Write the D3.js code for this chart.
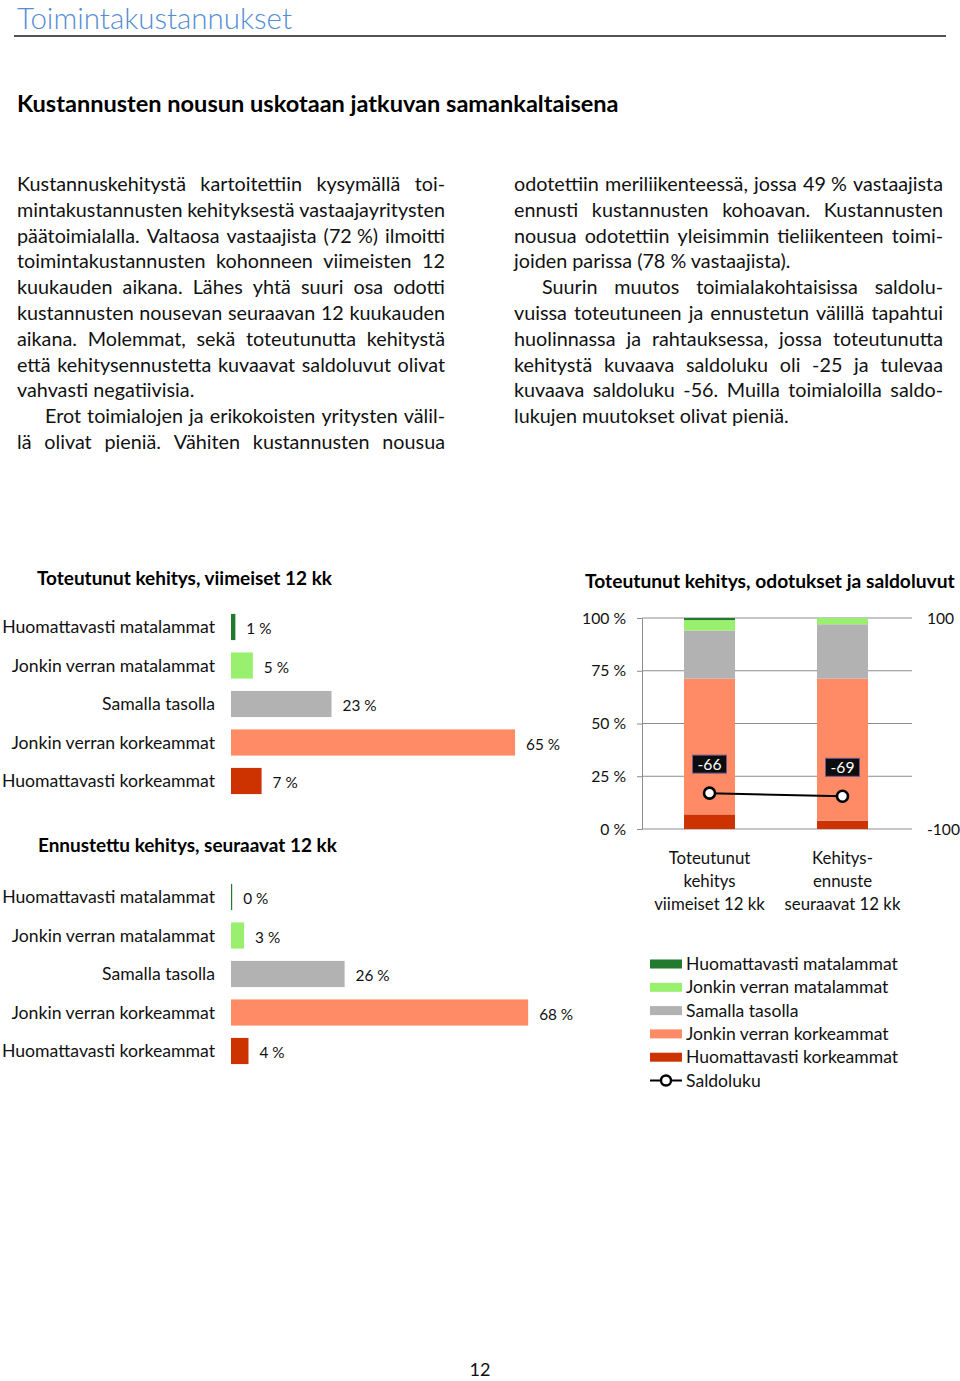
<!DOCTYPE html>
<html><head><meta charset="utf-8">
<script src="https://cdn.jsdelivr.net/npm/d3@7/dist/d3.min.js"></script>
<style>
body{margin:0;background:#fff;}
svg{display:block;}
</style></head><body>
<svg id="page" width="960" height="1381"></svg>
<script>
// ---------- DATA ----------
const pageTitle = "Toimintakustannukset";
const heading = "Kustannusten nousun uskotaan jatkuvan samankaltaisena";
const categories = ["Huomattavasti matalammat","Jonkin verran matalammat","Samalla tasolla","Jonkin verran korkeammat","Huomattavasti korkeammat"];
const categoryColors = ["#217a2e","#99f06f","#b2b2b2","#ff8b66","#cc3300"];
const realizedValues = [1,5,23,65,7];
const forecastValues = [0,3,26,68,4];
const periods = ["Toteutunut","Ennuste"];
const periodLabels = [["Toteutunut","kehitys","viimeiset 12 kk"],["Kehitys-","ennuste","seuraavat 12 kk"]];
const saldoValues = [-66,-69];
const leftTicks = [0,0.25,0.5,0.75,1];
const rightTicks = [-100,100];
const chartTitles = ["Toteutunut kehitys, viimeiset 12 kk","Ennustettu kehitys, seuraavat 12 kk","Toteutunut kehitys, odotukset ja saldoluvut"];
const legendSaldo = "Saldoluku";
const pageNumber = "12";
const leftLines = [
 {t:"Kustannuskehitystä kartoitettiin kysymällä toi-", j:1},
 {t:"mintakustannusten kehityksestä vastaajayritysten", j:1},
 {t:"päätoimialalla. Valtaosa vastaajista (72\u00a0%) ilmoitti", j:1},
 {t:"toimintakustannusten kohonneen viimeisten 12", j:1},
 {t:"kuukauden aikana. Lähes yhtä suuri osa odotti", j:1},
 {t:"kustannusten nousevan seuraavan 12 kuukauden", j:1},
 {t:"aikana. Molemmat, sekä toteutunutta kehitystä", j:1},
 {t:"että kehitysennustetta kuvaavat saldoluvut olivat", j:1},
 {t:"vahvasti negatiivisia.", j:0},
 {t:"Erot toimialojen ja erikokoisten yritysten välil-", j:1, indent:1},
 {t:"lä olivat pieniä. Vähiten kustannusten nousua", j:1}
];
const rightLines = [
 {t:"odotettiin meriliikenteessä, jossa 49\u00a0% vastaajista", j:1},
 {t:"ennusti kustannusten kohoavan. Kustannusten", j:1},
 {t:"nousua odotettiin yleisimmin tieliikenteen toimi-", j:1},
 {t:"joiden parissa (78\u00a0% vastaajista).", j:0},
 {t:"Suurin muutos toimialakohtaisissa saldolu-", j:1, indent:1},
 {t:"vuissa toteutuneen ja ennustetun välillä tapahtui", j:1},
 {t:"huolinnassa ja rahtauksessa, jossa toteutunutta", j:1},
 {t:"kehitystä kuvaava saldoluku oli -25 ja tulevaa", j:1},
 {t:"kuvaava saldoluku -56. Muilla toimialoilla saldo-", j:1},
 {t:"lukujen muutokset olivat pieniä.", j:0}
];

// ---------- HELPERS ----------
const FONT = "Lato, 'Open Sans', 'DejaVu Sans', sans-serif";
const svg = d3.select("#page").attr("font-family", FONT);
function measure(str, size, weight){
  const t = svg.append("text").attr("font-size", size).attr("font-weight", weight||400).text(str);
  const w = t.node().getComputedTextLength(); t.remove(); return w;
}
function fit(str, targetW, weight){ return 20*targetW/measure(str,20,weight); }

// ---------- PAGE HEADER ----------
svg.append("text").attr("x",17).attr("y",28.5).attr("fill","#548dd4")
  .attr("font-weight",300).attr("font-size",Math.min(29.5,fit(pageTitle,278,300))).text(pageTitle);
svg.append("line").attr("x1",14).attr("x2",946).attr("y1",36).attr("y2",36)
  .attr("stroke","#1a1a1a").attr("stroke-width",1.6);
svg.append("text").attr("x",17).attr("y",112).attr("font-weight",700)
  .attr("font-size",fit(heading,602,700)).text(heading);

// ---------- BODY TEXT ----------
const bodySize = (fit("vahvasti negatiivisia.",176) + fit("joiden parissa (78\u00a0% vastaajista).",278) + fit("lukujen muutokset olivat pieniä.",276))/3;
const spaceW = measure("a a",bodySize) - measure("aa",bodySize);
const bodyG = svg.append("g").attr("font-size",bodySize).attr("fill","#111");
function drawParagraph(lines, x0, width, y0, lh){
  lines.forEach((ln,i)=>{
    const y = y0 + i*lh;
    const xs = x0 + (ln.indent?28:0);
    const w = width - (ln.indent?28:0);
    if(!ln.j){ bodyG.append("text").attr("x",xs).attr("y",y).text(ln.t); return; }
    const words = ln.t.split(" ");
    const widths = words.map(wd => measure(wd, bodySize));
    const gap = Math.max(spaceW*0.8,(w - d3.sum(widths))/(words.length-1));
    let xc = xs;
    words.forEach((wd,k)=>{
      bodyG.append("text").attr("x",xc).attr("y",y).text(wd);
      xc += widths[k]+gap;
    });
  });
}
drawParagraph(leftLines, 17, 428, 191, 25.8);
drawParagraph(rightLines, 514, 429, 191, 25.8);

// ---------- HORIZONTAL BAR CHARTS ----------
const labelSize = fit(categories[0],213);
const valueSize = fit("65 %",34);
const x = d3.scaleLinear().domain([0,100]).range([231,668]);
function barChart(values, title, titleX, titleY, titleW, r0){
  svg.append("text").attr("x",titleX).attr("y",titleY).attr("font-weight",700)
    .attr("font-size",fit(title,titleW,700)).text(title);
  const y = d3.scaleBand().domain(categories).range([r0, r0+192.5]).paddingInner(0.32).paddingOuter(0.16);
  const g = svg.append("g");
  const rows = categories.map((c,i)=>({c, v:values[i], col:categoryColors[i]}));
  g.selectAll("rect").data(rows).join("rect")
    .attr("x",x(0)).attr("y",d=>y(d.c)).attr("height",y.bandwidth())
    .attr("width",d=>Math.max(1.2, x(d.v)-x(0))).attr("fill",d=>d.col);
  g.selectAll("text.cat").data(rows).join("text").attr("class","cat")
    .attr("x",215).attr("y",d=>y(d.c)+y.bandwidth()/2).attr("dy","0.35em")
    .attr("text-anchor","end").attr("font-size",labelSize).attr("fill","#111").text(d=>d.c);
  g.selectAll("text.val").data(rows).join("text").attr("class","val")
    .attr("x",d=>Math.max(x(0)+1.2,x(d.v))+11).attr("y",d=>y(d.c)+y.bandwidth()/2+2).attr("dy","0.35em")
    .attr("font-size",valueSize).attr("fill","#111").text(d=>d.v+" %");
}
barChart(realizedValues, chartTitles[0], 37, 585, 295, 607.75);
barChart(forecastValues, chartTitles[1], 38, 852, 299, 877.75);

// ---------- STACKED CHART ----------
const sc = svg.append("g");
sc.append("text").attr("x",585).attr("y",588).attr("font-weight",700)
  .attr("font-size",fit(chartTitles[2],370,700)).text(chartTitles[2]);
const yL = d3.scaleLinear().domain([0,1]).range([829,618]);
const yR = d3.scaleLinear().domain([-100,100]).range([829,618]);
const xb = d3.scaleBand().domain(periods).range([642,910]).paddingInner(0.6165).paddingOuter(0.316);
// grid
sc.selectAll("line.grid").data(leftTicks).join("line").attr("class","grid")
  .attr("x1",642).attr("x2",912).attr("y1",d=>yL(d)).attr("y2",d=>yL(d))
  .attr("stroke","#8c8c8c").attr("stroke-width",1);
const tickSize = fit("100 %",44);
const axL = sc.append("g").attr("transform","translate(642,0)")
  .call(d3.axisLeft(yL).tickValues(leftTicks).tickFormat(d=>Math.round(d*100)+" %").tickSizeInner(5).tickSizeOuter(0).tickPadding(11));
axL.select(".domain").attr("stroke","#8c8c8c");
axL.selectAll(".tick line").attr("stroke","#8c8c8c");
axL.selectAll("text").attr("font-size",tickSize).attr("font-family",FONT).attr("fill","#111");
const axR = sc.append("g").attr("transform","translate(912,0)")
  .call(d3.axisRight(yR).tickValues(rightTicks).tickFormat(d=>String(d)).tickSize(0).tickPadding(15));
axR.select(".domain").remove();
axR.selectAll("text").attr("font-size",Math.min(tickSize,fit("-100",33))).attr("font-family",FONT).attr("fill","#111");

const tableRows = periods.map((p,i)=>{
  const o = {period:p};
  categories.forEach((c,k)=>{ o[c] = (i===0?realizedValues:forecastValues)[k]; });
  return o;
});
const stack = d3.stack().keys(categories.slice().reverse()).offset(d3.stackOffsetExpand);
const series = stack(tableRows);
sc.selectAll("g.series").data(series).join("g").attr("class","series")
  .attr("fill",d=>categoryColors[categories.indexOf(d.key)])
  .selectAll("rect").data(d=>d).join("rect")
  .attr("x",d=>xb(d.data.period)).attr("width",xb.bandwidth())
  .attr("y",d=>yL(d[1])).attr("height",d=>yL(d[0])-yL(d[1]));

// category axis labels
const catSize = fit("seuraavat 12 kk",116);
periods.forEach((p,i)=>{
  const t = sc.append("text").attr("text-anchor","middle").attr("font-size",catSize).attr("fill","#111");
  periodLabels[i].forEach((l,k)=>{
    t.append("tspan").attr("x",xb(p)+xb.bandwidth()/2).attr("y",864+k*23).text(l);
  });
});

// saldo line
const pts = periods.map((p,i)=>({x:xb(p)+xb.bandwidth()/2, v:saldoValues[i]}));
sc.append("path").datum(pts).attr("fill","none").attr("stroke","#000").attr("stroke-width",2)
  .attr("d",d3.line().x(d=>d.x).y(d=>yR(d.v)));
sc.selectAll("circle.pt").data(pts).join("circle").attr("class","pt")
  .attr("cx",d=>d.x).attr("cy",d=>yR(d.v)).attr("r",5.5)
  .attr("fill","#fff").attr("stroke","#000").attr("stroke-width",2.6);
const lblSize = fit("-66",24);
pts.forEach(d=>{
  const cy = yR(d.v)-29;
  const w = measure(String(d.v), lblSize) + 10;
  sc.append("rect").attr("x",d.x-w/2).attr("y",cy-9).attr("width",w).attr("height",18)
    .attr("fill","#0d0d0d").attr("stroke","#6b5b8c").attr("stroke-width",1);
  sc.append("text").attr("x",d.x).attr("y",cy).attr("dy","0.35em").attr("text-anchor","middle")
    .attr("font-size",lblSize).attr("fill","#fff").text(d.v);
});

// legend
const legSize = fit(categories[0],212);
const lg = svg.append("g");
const legRows = categories.map((c,i)=>({c,col:categoryColors[i]}));
const ly = d3.scaleLinear().domain([0,5]).range([964,1080.5]);
lg.selectAll("rect").data(legRows).join("rect")
  .attr("x",650).attr("y",(d,i)=>ly(i)-4.5).attr("width",32).attr("height",9).attr("fill",d=>d.col);
lg.selectAll("text.leg").data(legRows.concat([{c:legendSaldo}])).join("text").attr("class","leg")
  .attr("x",686).attr("y",(d,i)=>ly(i)).attr("dy","0.35em").attr("font-size",legSize).attr("fill","#111").text(d=>d.c);
lg.append("line").attr("x1",650).attr("x2",682).attr("y1",ly(5)).attr("y2",ly(5)).attr("stroke","#000").attr("stroke-width",2);
lg.append("circle").attr("cx",666).attr("cy",ly(5)).attr("r",5).attr("fill","#fff").attr("stroke","#000").attr("stroke-width",2.4);

// page number
svg.append("text").attr("x",480).attr("y",1376).attr("text-anchor","middle").attr("font-size",18).attr("fill","#111").text(pageNumber);
</script>
</body></html>
